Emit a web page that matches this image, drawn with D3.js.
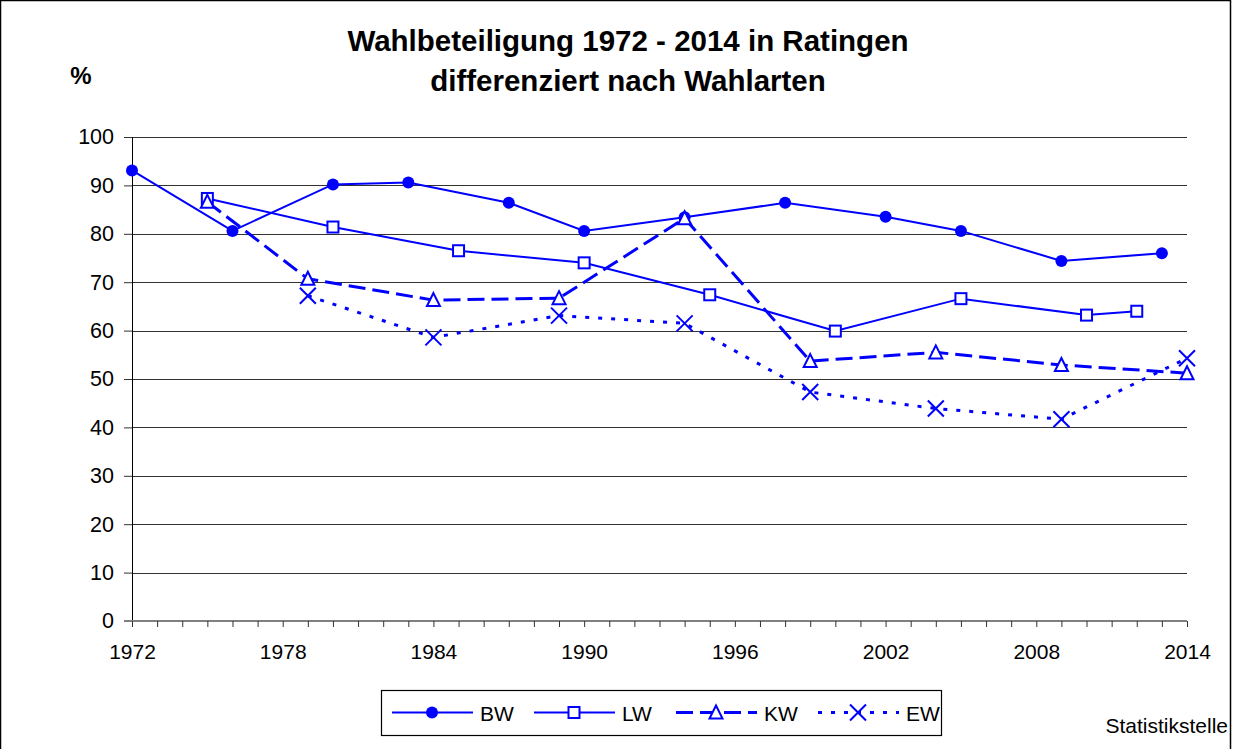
<!DOCTYPE html>
<html>
<head>
<meta charset="utf-8">
<script src="https://cdn.jsdelivr.net/npm/d3@7"></script>
<style>
  body { margin: 0; background: #fff; }
  svg { display: block; font-family: "Liberation Sans", Arial, sans-serif; }
</style>
</head>
<body>
<div id="chart"></div>
<script>
// Wahlbeteiligung in Ratingen
var bwYears = [1972, 1976, 1980, 1983, 1987, 1990, 1994, 1998, 2002, 2005, 2009, 2013];
var bwValues = [93.1, 80.6, 90.2, 90.6, 86.4, 80.6, 83.4, 86.4, 83.5, 80.6, 74.4, 76.0];

var lwYears = [1975, 1980, 1985, 1990, 1995, 2000, 2005, 2010, 2012];
var lwValues = [87.3, 81.4, 76.5, 74.0, 67.4, 59.9, 66.6, 63.2, 64.0];

var kwYears = [1975, 1979, 1984, 1989, 1994, 1999, 2004, 2009, 2014];
var kwValues = [86.6, 70.7, 66.3, 66.7, 83.2, 53.7, 55.5, 52.9, 51.2];

var ewYears = [1979, 1984, 1989, 1994, 1999, 2004, 2009, 2014];
var ewValues = [67.2, 58.6, 63.1, 61.5, 47.3, 43.9, 41.7, 54.3];

var seriesNames = ["BW", "LW", "KW", "EW"];
var xTickLabels = [1972, 1978, 1984, 1990, 1996, 2002, 2008, 2014];
var yTickLabels = [0, 10, 20, 30, 40, 50, 60, 70, 80, 90, 100];

var width = 1233, height = 749;
var plotLeft = 132, plotRight = 1187, plotTop = 137, plotBottom = 621;
var blue = "#0000ff";

var svg = d3.select("#chart").append("svg")
  .attr("width", width)
  .attr("height", height);

// outer frame
svg.append("rect")
  .attr("x", 0.5).attr("y", 0.5)
  .attr("width", 1230).attr("height", 770)
  .attr("fill", "#fff").attr("stroke", "#000").attr("stroke-width", 1.5);

var x = d3.scaleLinear().domain([1972, 2014]).range([plotLeft, plotRight]);
var y = d3.scaleLinear().domain([0, 100]).range([plotBottom, plotTop]);

// title
svg.append("text").attr("x", 628).attr("y", 51)
  .attr("text-anchor", "middle").attr("font-size", 29.5).attr("font-weight", "bold")
  .text("Wahlbeteiligung 1972 - 2014 in Ratingen");
svg.append("text").attr("x", 628).attr("y", 91)
  .attr("text-anchor", "middle").attr("font-size", 29.5).attr("font-weight", "bold")
  .text("differenziert nach Wahlarten");
svg.append("text").attr("x", 81).attr("y", 84)
  .attr("text-anchor", "middle").attr("font-size", 24).attr("font-weight", "bold")
  .text("%");

// gridlines
svg.append("g").selectAll("line")
  .data(yTickLabels.filter(d => d > 0))
  .enter().append("line")
  .attr("x1", plotLeft).attr("x2", plotRight)
  .attr("y1", d => Math.round(y(d)) + 0.5).attr("y2", d => Math.round(y(d)) + 0.5)
  .attr("stroke", "#333").attr("stroke-width", 1.2);

// y axis
var yAxis = d3.axisLeft(y).tickValues(yTickLabels).tickSize(8).tickPadding(10);
var gy = svg.append("g")
  .attr("transform", `translate(${plotLeft},0)`)
  .call(yAxis);
gy.select(".domain").attr("stroke", "#000").attr("d", `M0.5,${plotTop}V${plotBottom}`);
gy.selectAll(".tick line").attr("stroke", "#333");
gy.selectAll(".tick text").attr("font-size", 21.5).attr("fill", "#000")
  .attr("font-family", "Liberation Sans, Arial, sans-serif");

// x axis: every year a small tick, labels every 6 years
var allYears = d3.range(1972, 2015);
var xAxis = d3.axisBottom(x).tickValues(allYears).tickSize(6)
  .tickFormat(d => xTickLabels.indexOf(d) >= 0 ? d : "");
var gx = svg.append("g")
  .attr("transform", `translate(0,${plotBottom})`)
  .call(xAxis);
gx.select(".domain").attr("stroke", "#808080").attr("stroke-width", 2)
  .attr("d", `M${plotLeft - 8},0H${plotRight}`);
gx.selectAll(".tick line").attr("stroke", "#333");
gx.selectAll(".tick text").attr("font-size", 21).attr("fill", "#000").attr("dy", "1.4em")
  .attr("font-family", "Liberation Sans, Arial, sans-serif");

// series
var series = [
  { name: "BW", years: bwYears, values: bwValues, dash: null, width: 2, marker: "circle" },
  { name: "LW", years: lwYears, values: lwValues, dash: null, width: 2, marker: "square" },
  { name: "KW", years: kwYears, values: kwValues, dash: "17,7", width: 3, marker: "triangle" },
  { name: "EW", years: ewYears, values: ewValues, dash: "4,9", width: 3, marker: "cross" }
];

var line = d3.line().x(d => x(d[0])).y(d => y(d[1]));

function drawMarker(g, type, cx, cy) {
  if (type === "circle") {
    g.append("circle").attr("cx", cx).attr("cy", cy).attr("r", 6).attr("fill", blue);
  } else if (type === "square") {
    g.append("rect").attr("x", cx - 5.5).attr("y", cy - 5.5).attr("width", 11).attr("height", 11)
      .attr("fill", "#fff").attr("stroke", blue).attr("stroke-width", 2);
  } else if (type === "triangle") {
    g.append("path").attr("d", `M${cx},${cy - 7}L${cx + 6.5},${cy + 6}L${cx - 6.5},${cy + 6}Z`)
      .attr("fill", "#fff").attr("stroke", blue).attr("stroke-width", 2);
  } else {
    g.append("path").attr("d", `M${cx - 8},${cy - 8}L${cx + 8},${cy + 8}M${cx - 8},${cy + 8}L${cx + 8},${cy - 8}`)
      .attr("fill", "none").attr("stroke", blue).attr("stroke-width", 2);
  }
}

series.forEach(s => {
  var pts = s.years.map((yr, i) => [yr, s.values[i]]);
  var g = svg.append("g");
  g.append("path").datum(pts)
    .attr("d", line)
    .attr("fill", "none")
    .attr("stroke", blue)
    .attr("stroke-width", s.width)
    .attr("stroke-dasharray", s.dash);
  pts.forEach(p => drawMarker(g, s.marker, x(p[0]), y(p[1])));
});

// legend
var legend = svg.append("g");
legend.append("rect")
  .attr("x", 381.5).attr("y", 690.5).attr("width", 560).attr("height", 45)
  .attr("fill", "#fff").attr("stroke", "#000").attr("stroke-width", 1.2);
var legendX = [392, 534, 676, 818];
series.forEach((s, i) => {
  var lx = legendX[i], ly = 712.5;
  legend.append("line")
    .attr("x1", lx).attr("x2", lx + 81).attr("y1", ly).attr("y2", ly)
    .attr("stroke", blue).attr("stroke-width", s.width)
    .attr("stroke-dasharray", s.dash);
  drawMarker(legend, s.marker, lx + 40, ly);
  legend.append("text").attr("x", lx + 88).attr("y", ly + 8)
    .attr("font-size", 21).text(seriesNames[i]);
});

svg.append("text").attr("x", 1228).attr("y", 733)
  .attr("text-anchor", "end").attr("font-size", 21)
  .text("Statistikstelle");
</script>
</body>
</html>
